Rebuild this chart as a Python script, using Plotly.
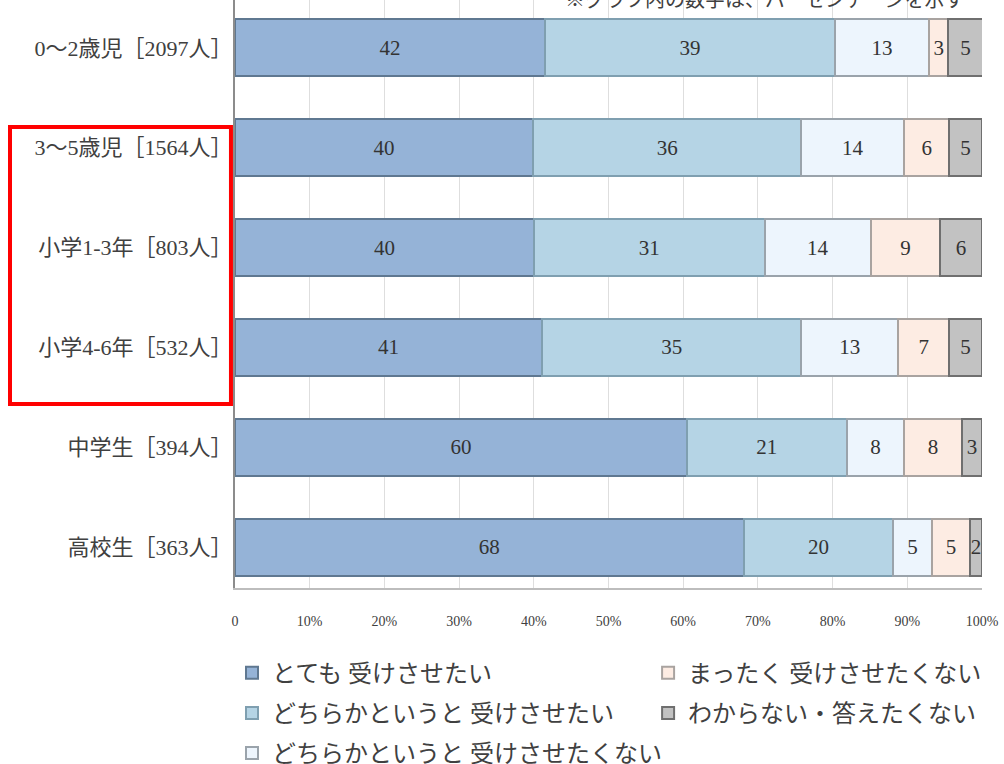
import plotly.graph_objects as go

categories = ["0～2歳児［2097人］", "3～5歳児［1564人］", "小学1-3年［803人］",
              "小学4-6年［532人］", "中学生［394人］", "高校生［363人］"]
series_names = ["とても 受けさせたい", "どちらかというと 受けさせたい",
                "どちらかというと 受けさせたくない", "まったく 受けさせたくない",
                "わからない・答えたくない"]
# estimated segment widths (%)
v_very = [41.5, 39.9, 40.0, 41.1, 60.5, 68.1]
v_rather = [38.8, 35.9, 30.9, 34.7, 21.4, 20.0]
v_rather_not = [12.6, 13.8, 14.2, 13.0, 7.7, 5.2]
v_not_at_all = [2.6, 6.0, 9.3, 6.8, 7.7, 5.1]
v_unknown = [4.6, 4.4, 5.6, 4.4, 2.7, 1.6]
# printed labels
t_very = [42, 40, 40, 41, 60, 68]
t_rather = [39, 36, 31, 35, 21, 20]
t_rather_not = [13, 14, 14, 13, 8, 5]
t_not_at_all = [3, 6, 9, 7, 8, 5]
t_unknown = [5, 5, 6, 5, 3, 2]
x_ticks = [0, 10, 20, 30, 40, 50, 60, 70, 80, 90, 100]
x_tick_labels = ["0"] + [f"{t}%" for t in x_ticks[1:]]
note_text = "※グラフ内の数字は、パーセンテージを示す"

values = [v_very, v_rather, v_rather_not, v_not_at_all, v_unknown]
texts = [t_very, t_rather, t_rather_not, t_not_at_all, t_unknown]
fills = ["#95b3d7", "#b5d4e5", "#edf5fd", "#fdece3", "#c2c2c2"]
lines = ["#5f7891", "#7f9fb0", "#9aa3ab", "#a9a3a0", "#6f6f6f"]
legends = ["legend", "legend", "legend", "legend2", "legend2"]

FONT = "Liberation Serif, Noto Sans CJK JP, serif"

fig = go.Figure()
for i, name in enumerate(series_names):
    fig.add_trace(go.Bar(
        y=categories, x=values[i], orientation="h", name=name,
        text=[str(t) for t in texts[i]], textposition="inside",
        insidetextanchor="middle", textangle=0,
        textfont=dict(family=FONT, size=21, color="#333333"),
        marker=dict(color=fills[i], line=dict(color=lines[i], width=2)),
        width=0.57, legend=legends[i], legendgroup=f"g{i}",
        hoverinfo="skip",
    ))

legend_font = dict(family=FONT, size=24, color="#404040")
fig.update_layout(
    width=1004, height=764,
    barmode="stack",
    plot_bgcolor="white", paper_bgcolor="white",
    margin=dict(l=235, r=22, t=0, b=176, autoexpand=False),
    uniformtext=dict(mode="show", minsize=21),
    font=dict(family=FONT, color="#404040"),
    xaxis=dict(range=[0, 100], tickvals=x_ticks, ticktext=x_tick_labels,
               showgrid=True, gridcolor="#dedede", gridwidth=1,
               zeroline=False, showline=True, linecolor="#bdbdbd", linewidth=2,
               ticks="", ticklabelstandoff=19,
               tickfont=dict(family=FONT, size=14, color="#404040")),
    yaxis=dict(categoryorder="array", categoryarray=categories,
               range=[5.41, -0.48], showgrid=False, zeroline=False,
               showline=True, linecolor="#8c8c8c", linewidth=2,
               ticks="", ticklabelstandoff=-4,
               tickfont=dict(family=FONT, size=22, color="#404040")),
    legend=dict(x=-0.004, y=-0.1065, xanchor="left", yanchor="top",
                orientation="v", tracegroupgap=6, font=legend_font,
                bgcolor="rgba(0,0,0,0)"),
    legend2=dict(x=0.553, y=-0.1065, xanchor="left", yanchor="top",
                 orientation="v", tracegroupgap=6, font=legend_font,
                 bgcolor="rgba(0,0,0,0)"),
    showlegend=True,
)

fig.add_shape(type="rect", xref="paper", yref="paper",
              x0=-0.3012, x1=-0.0054, y0=0.313, y1=0.784,
              line=dict(color="#ff0000", width=4), fillcolor="rgba(0,0,0,0)")

fig.add_annotation(text=note_text, xref="paper", yref="paper",
                   x=0.98, y=1, xanchor="right", yanchor="bottom", yshift=-13,
                   showarrow=False,
                   font=dict(family=FONT, size=20, color="#404040"))

fig.write_html("out.html", config={"displayModeBar": False},
               post_script="document.body.style.margin='0';document.body.style.overflow='hidden';")
